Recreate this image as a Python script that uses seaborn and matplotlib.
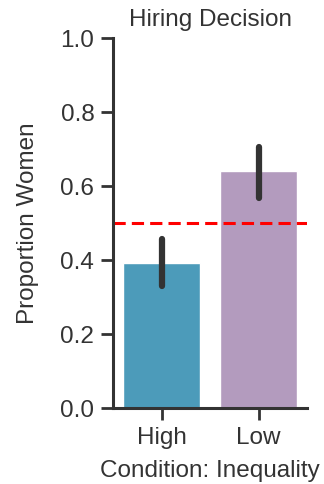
import matplotlib
matplotlib.use("Agg")
import matplotlib.pyplot as plt
import seaborn as sns
import pandas as pd

conditions = ["High", "Low"]
proportion = [0.392, 0.641]
ci_low = [0.330, 0.568]
ci_high = [0.457, 0.705]
colors = ["#4C9BBA", "#B39BBE"]
chance = 0.5

sns.set_theme(style="ticks")
plt.rcParams["font.family"] = ["Liberation Sans", "DejaVu Sans"]

df = pd.DataFrame({"Condition": conditions, "Proportion": proportion})

fig = plt.figure(figsize=(3.24, 4.84), dpi=100)
ax = fig.add_axes([0.349, 0.157, 0.599, 0.764])
sns.barplot(data=df, x="Condition", y="Proportion", hue="Condition",
            palette=colors, errorbar=None, width=0.8, legend=False, ax=ax,
            saturation=1)
ax.vlines(range(len(conditions)), ci_low, ci_high, color="#333333",
          linewidth=4.5, capstyle="round")
ax.axhline(chance, color="red", linestyle=(0, (4, 2)), linewidth=2.2)
ax.set_ylim(0, 1.0)
ax.set_xlim(-0.5, 1.5)
ax.set_yticks([0.0, 0.2, 0.4, 0.6, 0.8, 1.0])
ax.set_yticklabels([f"{v:.1f}" for v in [0.0, 0.2, 0.4, 0.6, 0.8, 1.0]])
fs = 17.5
tc = "#333333"
ax.set_xlabel("Condition: Inequality", fontsize=fs, color=tc, labelpad=8)
ax.set_ylabel("Proportion Women", fontsize=fs, color=tc, labelpad=15)
ax.set_title("Hiring Decision", fontsize=fs, color=tc, pad=9)
ax.tick_params(labelsize=fs, width=2, length=8.5, pad=5, colors=tc)
for s in ["left", "bottom"]:
    ax.spines[s].set_linewidth(2.2)
    ax.spines[s].set_color(tc)
sns.despine(ax=ax)
fig.savefig("out.png", dpi=100)
